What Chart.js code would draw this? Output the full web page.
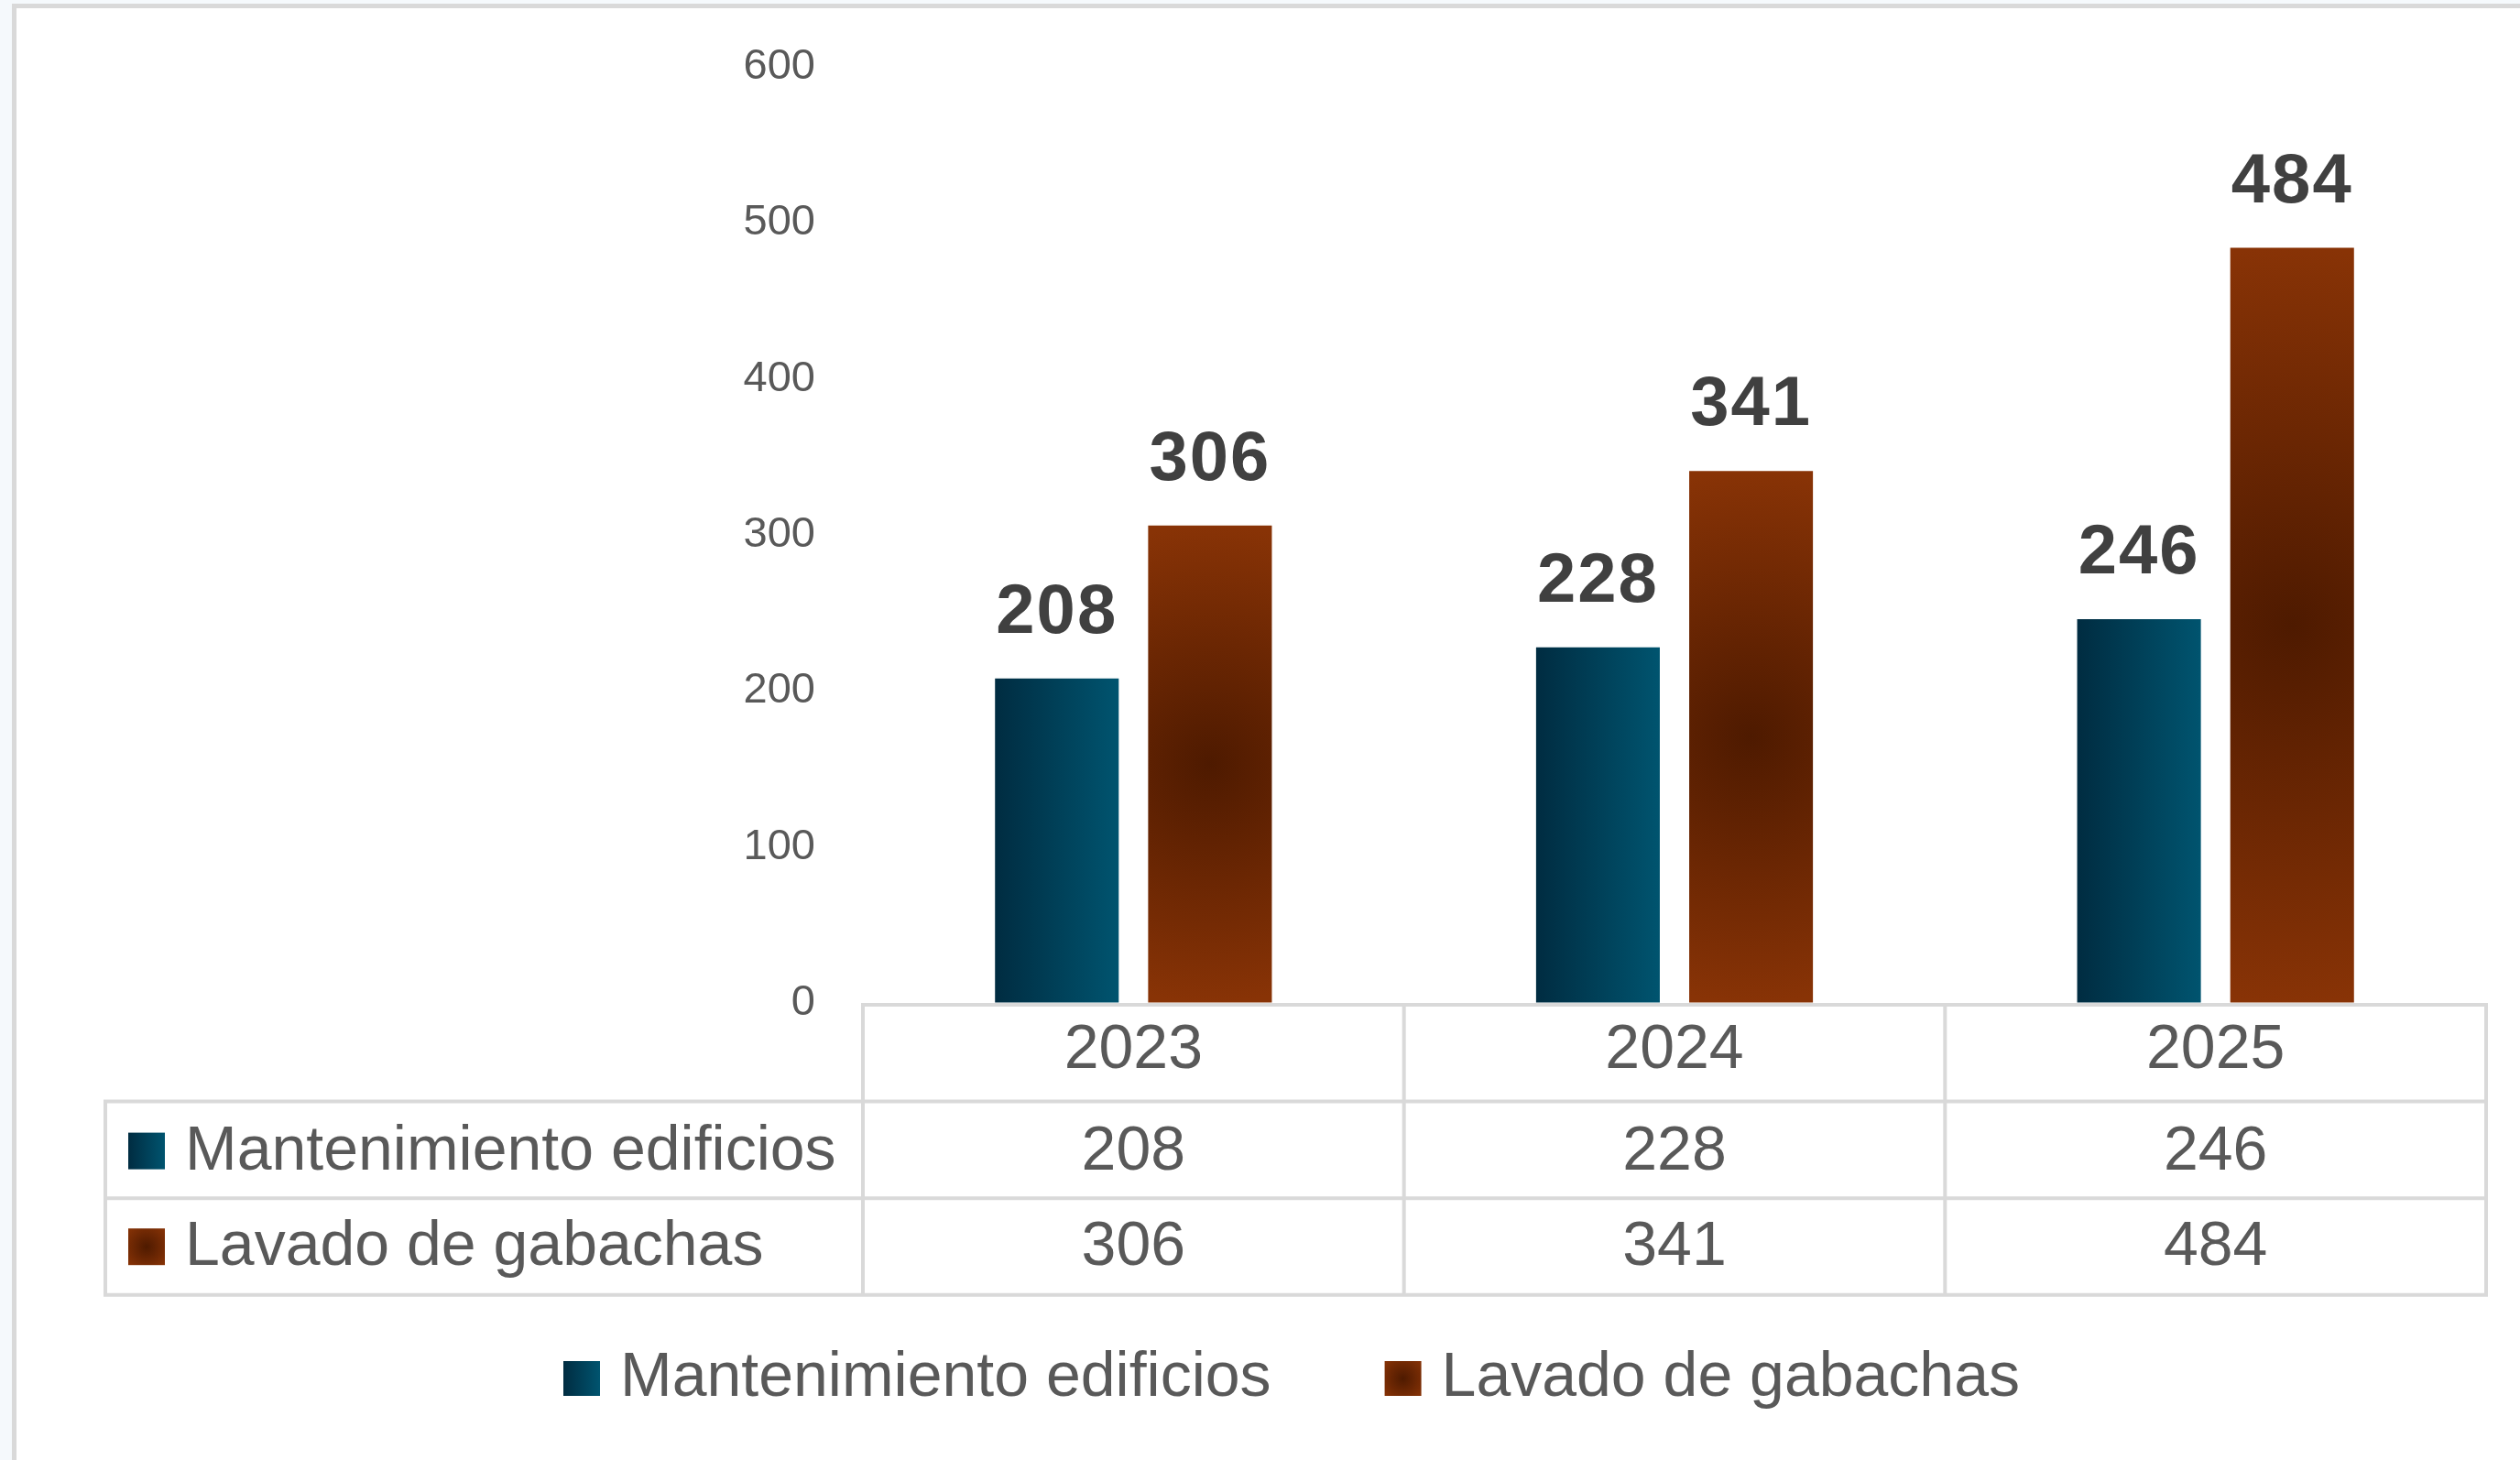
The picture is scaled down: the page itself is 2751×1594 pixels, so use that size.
<!DOCTYPE html>
<html><head><meta charset="utf-8">
<script src="https://cdn.jsdelivr.net/npm/chart.js@4.4.1/dist/chart.umd.min.js"></script>
<style>
html,body{margin:0;padding:0;background:#f5f9fc;overflow:hidden;width:2751px;height:1594px;}
#frame{position:absolute;left:13px;top:4px;border-left:5px solid #d9d9d9;border-top:5px solid #d9d9d9;background:#ffffff;width:2784px;height:1600px;}
#frame canvas{display:block;}
</style></head><body>
<div id="frame"><canvas id="c" width="2784" height="1600"></canvas></div>
<script>
// ---- data ----
const categories = ['2023', '2024', '2025'];
const seriesNames = ['Mantenimiento edificios', 'Lavado de gabachas'];
const mantenimiento = [208, 228, 246];
const lavado = [306, 341, 484];
const yTicks = [0, 100, 200, 300, 400, 500, 600];

// ---- style ----
const FONT = '"Liberation Sans", Arial, sans-serif';
const GRID = '#d9d9d9';
const TXT = '#595959';

function blueGrad(ctx, x0, x1) {
  const g = ctx.createLinearGradient(x0, 0, x1, 0);
  g.addColorStop(0, '#002c41');
  g.addColorStop(1, '#00546f');
  return g;
}
function brownGrad(ctx, cx, cy, r) {
  const g = ctx.createRadialGradient(cx, cy, 0, cx, cy, r);
  g.addColorStop(0, '#4e1a00');
  g.addColorStop(1, '#883306');
  return g;
}

const barFill = {
  id: 'barFill',
  beforeDatasetsDraw(chart) {
    const ctx = chart.ctx;
    chart.data.datasets.forEach((ds, di) => {
      const meta = chart.getDatasetMeta(di);
      meta.data.forEach(el => {
        const p = el.getProps(['x', 'y', 'base', 'width'], true);
        const fill = di === 0
          ? blueGrad(ctx, p.x - p.width / 2, p.x + p.width / 2)
          : brownGrad(ctx, p.x, (p.y + p.base) / 2, Math.max((p.base - p.y) / 2, p.width / 2));
        el.options = Object.assign({}, el.options, { backgroundColor: fill });
      });
    });
  }
};

const valueLabels = {
  id: 'valueLabels',
  afterDatasetsDraw(chart) {
    const ctx = chart.ctx;
    ctx.save();
    ctx.font = 'bold 76px ' + FONT;
    ctx.fillStyle = '#404040';
    ctx.textAlign = 'center';
    ctx.textBaseline = 'alphabetic';
    if ('letterSpacing' in ctx) ctx.letterSpacing = '2px';
    chart.data.datasets.forEach((ds, di) => {
      const meta = chart.getDatasetMeta(di);
      meta.data.forEach((el, i) => {
        ctx.fillText(String(ds.data[i]), el.x, el.y - 50);
      });
    });
    ctx.restore();
  }
};

// legend drawn under the data table (Excel-like spacing)
const bottomLegend = {
  id: 'bottomLegend',
  afterDraw(chart) {
    const ctx = chart.ctx;
    ctx.save();
    ctx.font = '68px ' + FONT;
    ctx.textBaseline = 'alphabetic';
    ctx.textAlign = 'left';
    const boxW = 40, boxH = 38, gap = 22, itemGap = 124;
    const widths = seriesNames.map(s => ctx.measureText(s).width);
    const total = widths.reduce((a, w) => a + boxW + gap + w, 0) + itemGap * (seriesNames.length - 1);
    let x = chart.width / 2 - total / 2;
    const baseline = 1515;
    seriesNames.forEach((s, i) => {
      ctx.fillStyle = i === 0 ? blueGrad(ctx, x, x + boxW) : brownGrad(ctx, x + boxW / 2, baseline - boxH / 2, 28);
      ctx.fillRect(x, baseline - boxH, boxW, boxH);
      ctx.fillStyle = TXT;
      ctx.fillText(s, x + boxW + gap, baseline);
      x += boxW + gap + widths[i] + itemGap;
    });
    ctx.restore();
  }
};

const dataTable = {
  id: 'dataTable',
  afterDraw(chart) {
    const ctx = chart.ctx;
    const area = chart.chartArea;
    const xs = chart.scales.x;
    const n = categories.length;
    const cw = (area.right - area.left) / n;
    const top = area.bottom + 2;
    const rowH = 105.6;
    const r1 = top + rowH, r2 = r1 + rowH, r3 = r2 + rowH;
    const leftX = 97;
    ctx.save();
    ctx.strokeStyle = GRID;
    ctx.lineWidth = 4;
    ctx.beginPath();
    ctx.moveTo(area.left - 2, top); ctx.lineTo(area.right + 2, top);
    ctx.moveTo(leftX - 2, r1); ctx.lineTo(area.right + 2, r1);
    ctx.moveTo(leftX - 2, r2); ctx.lineTo(area.right + 2, r2);
    ctx.moveTo(leftX - 2, r3); ctx.lineTo(area.right + 2, r3);
    for (let i = 0; i <= n; i++) {
      const x = area.left + i * cw;
      ctx.moveTo(x, top - 2); ctx.lineTo(x, r3 + 2);
    }
    ctx.moveTo(leftX, r1 - 2); ctx.lineTo(leftX, r3 + 2);
    ctx.stroke();

    ctx.fillStyle = TXT;
    ctx.font = '68px ' + FONT;
    ctx.textBaseline = 'alphabetic';
    ctx.textAlign = 'center';
    const base0 = top + 69, base1 = r1 + 74, base2 = r2 + 73;
    categories.forEach((c, i) => {
      const cx = xs.getPixelForValue(i);
      ctx.fillText(c, cx, base0);
      ctx.fillText(String(mantenimiento[i]), cx, base1);
      ctx.fillText(String(lavado[i]), cx, base2);
    });
    // row headers with legend keys
    ctx.textAlign = 'left';
    ctx.fillStyle = blueGrad(ctx, 122, 162);
    ctx.fillRect(122, base1 - 40, 40, 40);
    ctx.fillStyle = brownGrad(ctx, 142, base2 - 20, 28);
    ctx.fillRect(122, base2 - 40, 40, 40);
    ctx.fillStyle = TXT;
    ctx.fillText(seriesNames[0], 184, base1);
    ctx.fillText(seriesNames[1], 184, base2);
    ctx.restore();
  }
};

new Chart(document.getElementById('c'), {
  type: 'bar',
  data: {
    labels: categories,
    datasets: [
      { label: seriesNames[0], data: mantenimiento, backgroundColor: '#013f58', borderWidth: 0,
        categoryPercentage: 0.566, barPercentage: 0.808 },
      { label: seriesNames[1], data: lavado, backgroundColor: '#6e2903', borderWidth: 0,
        categoryPercentage: 0.566, barPercentage: 0.808 }
    ]
  },
  options: {
    responsive: false,
    devicePixelRatio: 1,
    animation: false,
    events: [],
    layout: { padding: { left: 88, right: 88, top: 64, bottom: 195 } },
    scales: {
      x: {
        grid: { display: false },
        border: { display: false },
        ticks: { display: false },
        afterFit(s) { s.height = 319; }
      },
      y: {
        min: 0, max: 600,
        grid: { display: true, color: 'rgba(0,0,0,0)', drawTicks: true, tickLength: 49, drawOnChartArea: false },
        border: { display: false },
        afterBuildTicks(s) { s.ticks = yTicks.map(v => ({ value: v })); },
        ticks: { color: TXT, font: { family: FONT, size: 47 }, padding: 3 },
        afterFit(s) { s.width = 836; }
      }
    },
    plugins: {
      legend: { display: false },
      tooltip: { enabled: false }
    }
  },
  plugins: [barFill, valueLabels, dataTable, bottomLegend]
});
</script>
</body></html>
